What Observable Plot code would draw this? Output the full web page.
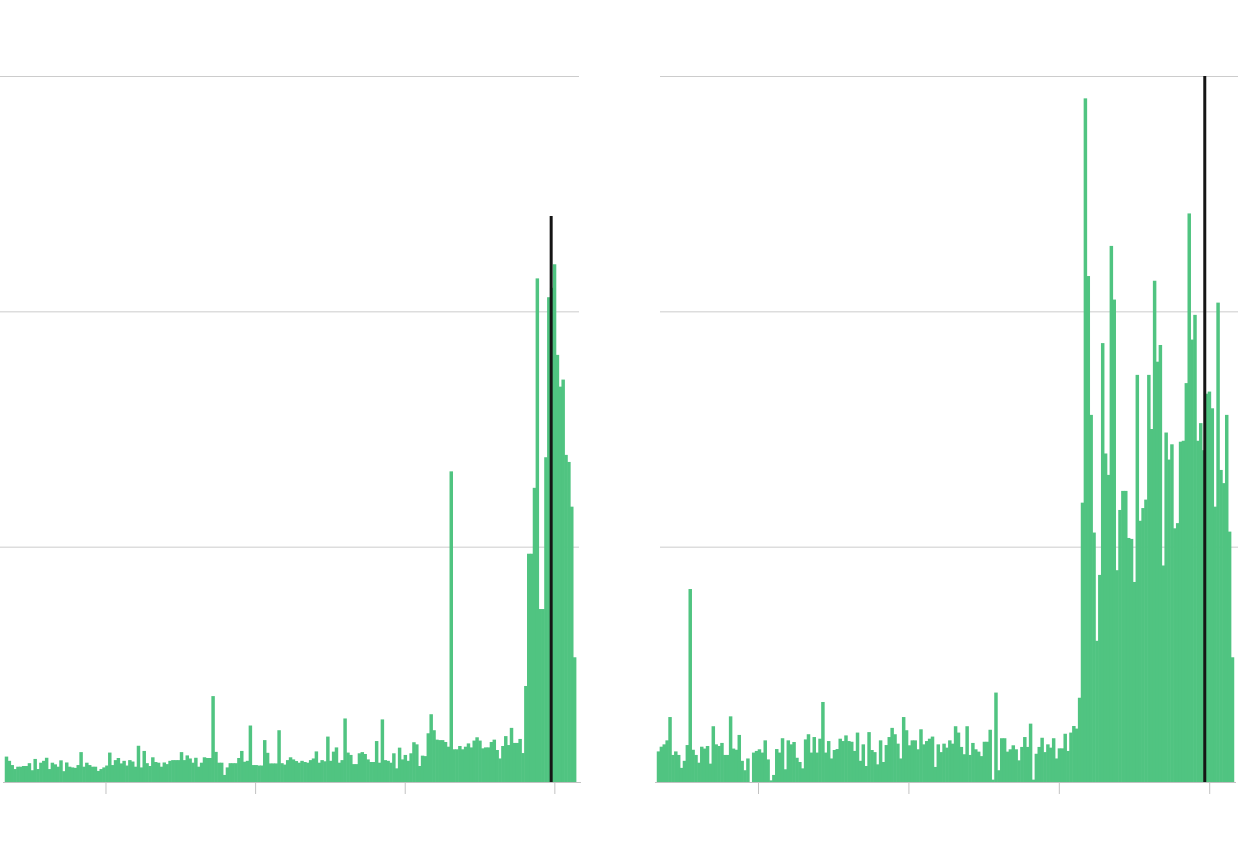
<!DOCTYPE html>
<html>
<head>
<meta charset="utf-8">
<script src="https://cdn.jsdelivr.net/npm/d3@7"></script>
<script src="https://cdn.jsdelivr.net/npm/@observablehq/plot@0.6"></script>
<style>
html, body { margin: 0; padding: 0; background: #ffffff; }
#row { display: flex; width: 1240px; height: 860px; }
#row > div { width: 620px; height: 860px; }
svg { display: block; }
</style>
</head>
<body>
<div id="row"><div id="left"></div><div id="right"></div></div>
<script>
// ---- data ----
const firstWeek = "2016-05-01";            // first weekly bin (both panels)
const domainStart = "2016-04-26";
const domainEnd = "2020-03-06";
const tickDates = ["2017-01-01", "2018-01-01", "2019-01-01", "2020-01-01"];
const gridValues = [100, 200, 300];

const leftValues = [
  10.8, 9, 7.2, 5.5, 6.5, 6.5, 6.8, 6.8, 8, 5,
  9.8, 5.5, 8.2, 9, 10.3, 5.5, 8.2, 7.5, 6.5, 9.2,
  4.6, 8.3, 6.5, 6.2, 6, 7.2, 12.7, 6.5, 8.2, 7.2,
  6.5, 6.5, 4.7, 5.5, 6.2, 7, 12.5, 7.2, 9.3, 10.2,
  7.9, 9, 7, 9.3, 8.7, 6.5, 15.4, 6.2, 13.2, 8,
  6.8, 10.5, 8.5, 8.2, 6.5, 8.3, 7.6, 9, 9.3, 9.3,
  9.3, 12.7, 9.3, 11.3, 10, 8.2, 10.3, 6.5, 8.2, 10.5,
  10.2, 10.2, 36.5, 12.8, 8.2, 8.2, 3, 6.2, 8, 8,
  8, 10.2, 13.2, 8.6, 9, 24, 7.2, 7.2, 7, 7,
  17.8, 12.4, 7.9, 7.9, 7.9, 22, 8, 7.4, 9.3, 10.5,
  9.6, 8.9, 8.2, 9, 8.5, 8.2, 9.3, 10, 13, 8.2,
  9.3, 8.8, 19.3, 9, 12.9, 14.7, 8.2, 9.3, 27, 12.5,
  11.5, 7.6, 7.6, 12.2, 12.7, 11.9, 9.6, 8.5, 8.5, 17.4,
  8.2, 26.6, 9.3, 9, 8.2, 12.2, 5.8, 14.6, 9.6, 11.5,
  9, 12.2, 16.9, 16, 6.8, 11.2, 11, 20.7, 28.8, 22,
  18, 17.8, 17.8, 17, 15, 132, 13.9, 13.9, 15.3, 13.9,
  15, 16.4, 14.7, 17.6, 19, 17.6, 14.3, 14.7, 14.7, 17,
  18, 13.6, 10, 15.3, 19.5, 15.7, 23, 16.6, 16.6, 18.3,
  12.3, 40.8, 97, 97, 125, 214, 73.5, 73.5, 138, 206,
  210, 220, 181.5, 168, 171, 139, 136, 117, 53
];

const rightValues = [
  13, 15, 16, 17.7, 27.6, 11.5, 13, 11.5, 6, 9,
  15.7, 82, 13.7, 11.5, 8.2, 15, 14.2, 15.3, 7.8, 23.7,
  16, 15.3, 16.6, 11.5, 11.5, 27.9, 14.2, 13.7, 20, 9,
  5, 10, 0, 12.5, 13.2, 13.9, 12.5, 17.7, 9.6, 0.7,
  3, 14, 12.5, 18.6, 5.4, 17.7, 16, 17, 10.3, 8.5,
  5.8, 18.1, 20.3, 12.5, 19.1, 12.5, 18.4, 34, 12.5, 17.4,
  10, 13.6, 14, 18.4, 17.4, 19.8, 17.4, 17.1, 13.2, 21,
  9, 16, 6.8, 21.2, 13.6, 12.7, 7.5, 17.7, 8.5, 15.7,
  19.1, 23, 20.3, 16.3, 10, 27.6, 22, 15.6, 17.7, 17.7,
  13.9, 22.4, 16, 17.4, 18.4, 19.3, 6.4, 16, 12.7, 16.3,
  14.6, 17.7, 16.3, 23.7, 21, 14.9, 11.8, 23.7, 11.5, 16.6,
  13.9, 12.9, 11, 17.1, 17.1, 22.2, 1, 38, 5, 18.6,
  18.6, 12.9, 13.9, 15.6, 13.9, 9.2, 14.9, 19.1, 14.9, 24.8,
  1, 12, 14.9, 18.8, 12.7, 16, 14.6, 18.6, 10, 14.3,
  14.3, 20.5, 13.2, 21, 23.8, 22.7, 35.8, 118.7, 290.5, 215,
  156, 106, 60, 88, 186.5, 139.6, 130.5, 227.8, 205, 90,
  115.6, 123.7, 123.7, 103.7, 103.3, 85, 173, 111, 116.4, 120,
  173, 150, 213, 178.6, 185.7, 92, 148.5, 137, 143.5, 107.8,
  110, 144.6, 145, 169.5, 241.6, 188, 198.5, 145, 152.5, 141,
  165, 165.9, 158.8, 117, 203.7, 132.6, 127, 156, 106.4, 53
];

// vertical marker (date and how high it reaches, in value units)
const leftMarker = [{date: "2019-12-23", bottom: 0, top: 240.5}];
const rightMarker = [{date: "2019-12-20", bottom: 0, top: 300}];

// ---- helpers ----
function weekly(values) {
  const start = new Date(firstWeek);
  return values.map((v, i) => ({date: d3.utcWeek.offset(start, i), value: v}));
}

function panel(values, marker, layout) {
  return Plot.plot({
    width: 620,
    height: 860,
    marginTop: 76,
    marginBottom: 78,
    marginLeft: layout.marginLeft,
    marginRight: layout.marginRight,
    style: {background: "#ffffff"},
    x: {type: "utc", domain: [new Date(domainStart), new Date(domainEnd)]},
    y: {domain: [0, 300], axis: null},
    marks: [
      Plot.ruleY(gridValues, {stroke: "#cccccc", strokeWidth: 1, insetLeft: layout.gridInsetLeft, insetRight: layout.gridInsetRight}),
      Plot.rectY(weekly(values), {x: "date", interval: d3.utcWeek, y: "value", fill: "#50c481", insetLeft: -0.3, insetRight: -0.3}),
      Plot.ruleY([0], {stroke: "#c2c2c2", strokeWidth: 1.2}),
      Plot.axisX({ticks: tickDates.map(d => new Date(d)), tickSize: 12, stroke: "#c2c2c2", fill: "none", label: null}),
      Plot.ruleX(marker.map(d => ({...d, date: new Date(d.date)})), {x: "date", y1: "bottom", y2: "top", stroke: "#151515", strokeWidth: 3})
    ]
  });
}

document.getElementById("left").append(
  panel(leftValues, leftMarker, {marginLeft: 3, marginRight: 39, gridInsetLeft: -3, gridInsetRight: 2})
);
document.getElementById("right").append(
  panel(rightValues, rightMarker, {marginLeft: 35, marginRight: 4, gridInsetLeft: 5, gridInsetRight: -2})
);
</script>
</body>
</html>
